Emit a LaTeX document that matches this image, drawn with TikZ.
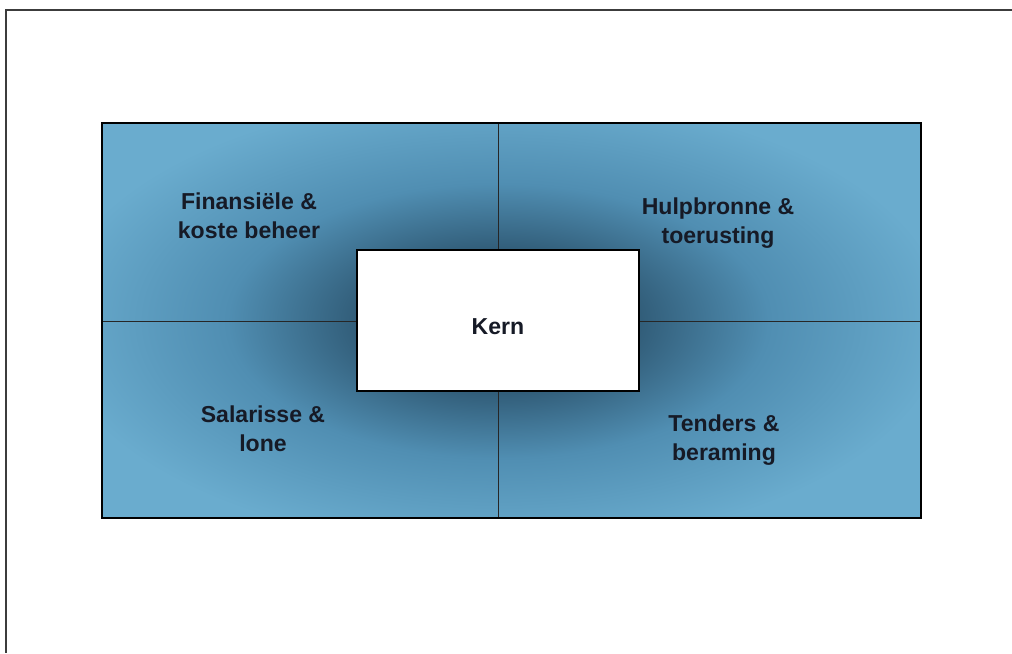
\documentclass[tikz,border=0pt]{standalone}
\usepackage{fontspec}
\setmainfont{Liberation Sans}
\definecolor{qlight}{RGB}{106,172,206}
\definecolor{qmid}{RGB}{80,142,178}
\definecolor{qdark}{RGB}{50,94,122}
\definecolor{frameline}{RGB}{60,60,60}
\definecolor{labelink}{RGB}{22,26,38}
% radial glow: the middle 50bp square is fitted to the shaded path
\pgfdeclareradialshading{coreglow}{\pgfpoint{0bp}{0bp}}{%
  color(0bp)=(qdark); color(5.5bp)=(qdark); color(10.4bp)=(qmid); color(17.3bp)=(qlight); color(50bp)=(qlight)}
\begin{document}
\begin{tikzpicture}[x=0.025cm, y=-0.025cm,
  label/.style={font=\bfseries\fontsize{16.4}{20.5}\selectfont, text=labelink, align=center, inner sep=0pt},
  divider/.style={draw=black!85, line width=0.6pt},
  corebox/.style={draw=black, fill=white, line width=1.1pt, minimum width=282*0.025cm, minimum height=141*0.025cm, inner sep=0pt}]
  \useasboundingbox (0,0) rectangle (1012,653);
  % page frame (top and left edges)
  \draw[frameline, line width=1.2pt] (1012,10) -- (6,10) -- (6,653);
  % quadrant field with darkening towards the core
  \begin{scope}
    \clip (102,123) rectangle (921,518);
    \fill[shading=coreglow] (498,321) ellipse [x radius=650, y radius=330];
  \end{scope}
  % corner coordinates of the field
  \coordinate (tl) at (102,123);
  \coordinate (br) at (921,518);
  \coordinate (tm) at (498,123);
  \coordinate (bm) at (498,518);
  \coordinate (lm) at (102,321);
  \coordinate (rm) at (921,321);
  \draw[divider] (tm) -- (bm);
  \draw[divider] (lm) -- (rm);
  \draw[black, line width=1.3pt] (tl) rectangle (br);
  % central core box
  \node[corebox] (kern) at (498,320.5) {};
  \node[label] (kernlbl) at (498,327) {Kern};
  % quadrant labels
  \node[label] (fin) at (249,216) {Finansiële \&\\koste beheer};
  \node[label] (hulp) at (718,223) {Hulpbronne \&\\toerusting};
  \node[label] (sal) at (263,429) {Salarisse \&\\lone};
  \node[label] (tend) at (724,440) {Tenders \&\\beraming};
\end{tikzpicture}
\end{document}
